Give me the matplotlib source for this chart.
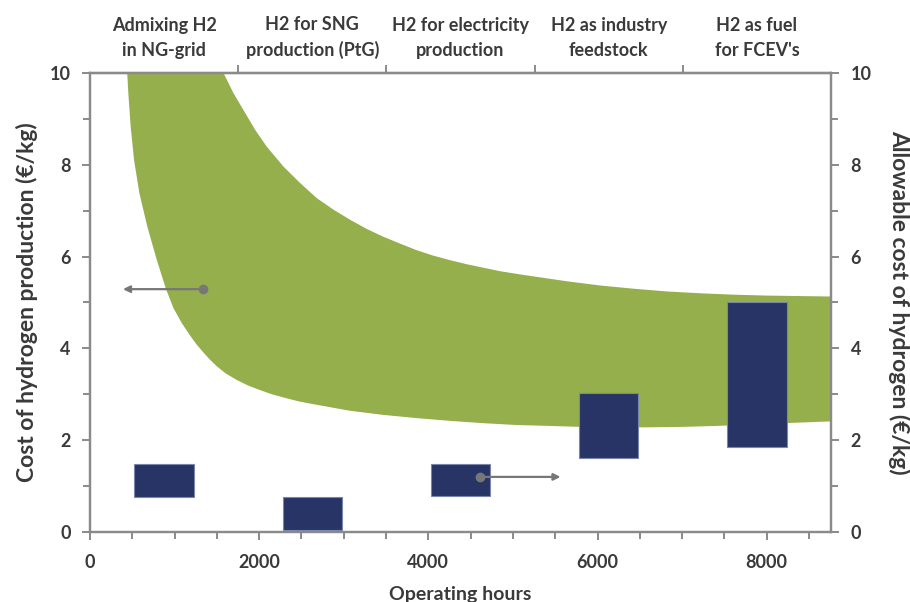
import numpy as np
import matplotlib
matplotlib.use("Agg")
import matplotlib.pyplot as plt
from matplotlib.ticker import MultipleLocator

plt.rcParams['font.family'] = ['Lato', 'DejaVu Sans']

# Production-cost band (EUR/kg) versus annual operating hours
lower_hours = [440, 453, 481, 521, 584, 678, 789, 899, 986, 1085, 1183, 1262, 1341, 1420,
               1499, 1600, 1736, 1870, 2012, 2150, 2288, 2480, 2683, 3077, 3471, 3866,
               4260, 4655, 5049, 5444, 5799, 6200, 6600, 7000, 7400, 7800, 8200, 8760]
lower_cost = [10.0, 9.56, 8.83, 8.10, 7.38, 6.65, 5.93, 5.29, 4.88, 4.55, 4.28, 4.08, 3.91, 3.75,
              3.61, 3.46, 3.31, 3.19, 3.09, 3.00, 2.93, 2.84, 2.77, 2.64, 2.55, 2.48,
              2.42, 2.37, 2.33, 2.31, 2.29, 2.28, 2.28, 2.29, 2.31, 2.34, 2.37, 2.41]
upper_hours = [1578, 1696, 1815, 1953, 2091, 2288, 2485, 2683, 2880, 3077, 3274, 3470,
               3669, 3860, 4059, 4260, 4461, 4852, 5089, 5645, 6030, 6426, 6820,
               7219, 7610, 8011, 8380, 8760]
upper_cost = [10.0, 9.56, 9.19, 8.76, 8.39, 7.96, 7.60, 7.27, 7.02, 6.80, 6.60, 6.43,
              6.28, 6.14, 6.02, 5.92, 5.83, 5.68, 5.61, 5.46, 5.37, 5.30, 5.24,
              5.20, 5.17, 5.15, 5.14, 5.13]

# Allowable hydrogen cost per application (EUR/kg), right axis
applications = ["Admixing H2\nin NG-grid", "H2 for SNG\nproduction (PtG)",
                "H2 for electricity\nproduction", "H2 as industry\nfeedstock",
                "H2 as fuel\nfor FCEV's"]
allow_low = [0.77, 0.05, 0.78, 1.61, 1.85]
allow_high = [1.48, 0.77, 1.48, 3.03, 5.01]

hours_max = 8760
segment = hours_max / len(applications)
centers = [segment * (i + 0.5) for i in range(len(applications))]
boundaries = [segment * i for i in range(1, len(applications))]

GREEN = '#94AF4C'
NAVY = '#283465'
GREY = '#8a8a8a'
TEXT = '#3a3a3a'

fig = plt.figure(figsize=(9.10, 6.02), dpi=100)
ax = fig.add_axes([0.0989, 0.1163, 0.8143, 0.7625])
ax.set_xlim(0, hours_max)
ax.set_ylim(0, 10)

# green band: lower curve out, upper curve back, closed along the top at 10
poly_x = list(lower_hours) + list(upper_hours[::-1])
poly_y = list(lower_cost) + list(upper_cost[::-1])
ax.fill(poly_x, poly_y, color=GREEN, lw=0, zorder=1)

# right axis with the allowable-cost boxes
ax2 = ax.twinx()
ax2.set_ylim(0, 10)
box_w = 700
for c, lo, hi in zip(centers, allow_low, allow_high):
    ax2.bar(c, hi - lo, bottom=lo, width=box_w, color=NAVY,
            edgecolor='#7b86ab', linewidth=0.8, zorder=3)

# arrows pointing to the relevant axis
ax.annotate('', xy=(390, 5.29), xytext=(1337, 5.29),
            arrowprops=dict(arrowstyle='-|>', color='#777777', lw=1.6,
                            mutation_scale=10, shrinkA=0, shrinkB=0), zorder=4)
ax.plot([1337], [5.29], 'o', color='#777777', ms=6, zorder=5)
ax2.annotate('', xy=(5562, 1.20), xytext=(4615, 1.20),
             arrowprops=dict(arrowstyle='-|>', color='#777777', lw=1.6,
                             mutation_scale=10, shrinkA=0, shrinkB=0), zorder=6)
ax2.plot([4615], [1.20], 'o', color='#777777', ms=6, zorder=7)

# axes styling
for a in (ax, ax2):
    for s in a.spines.values():
        s.set_color(GREY)
        s.set_linewidth(1.6)
    a.tick_params(which='both', color=GREY, width=1.4, direction='out')
    a.tick_params(which='major', length=6)
    a.tick_params(which='minor', length=5)

ax.xaxis.set_major_locator(MultipleLocator(2000))
ax.xaxis.set_minor_locator(MultipleLocator(500))
ax.yaxis.set_major_locator(MultipleLocator(2))
ax.yaxis.set_minor_locator(MultipleLocator(1))
ax2.yaxis.set_major_locator(MultipleLocator(2))
ax2.yaxis.set_minor_locator(MultipleLocator(1))

for lab in ax.get_xticklabels() + ax.get_yticklabels() + ax2.get_yticklabels():
    lab.set_fontweight('bold')
    lab.set_fontsize(13)
    lab.set_color(TEXT)
ax.tick_params(axis='x', pad=10)
ax.tick_params(axis='y', pad=8)
ax2.tick_params(axis='y', pad=8)

ax.set_xlabel('Operating hours', fontsize=14, fontweight='bold', color=TEXT, labelpad=11)
ax.set_ylabel('Cost of hydrogen production (€/kg)', fontsize=16.5,
              fontweight='bold', color=TEXT, labelpad=8)
ax2.set_ylabel('Allowable cost of hydrogen (€/kg)', fontsize=16.5,
               fontweight='bold', color=TEXT, rotation=270, labelpad=28)

# top axis: application segments
top = ax.secondary_xaxis('top')
top.set_xticks(boundaries)
top.set_xticklabels([])
top.tick_params(color=GREY, width=1.4, length=6, direction='out')
top.spines['top'].set_color(GREY)
top.spines['top'].set_linewidth(1.6)

for c, name in zip(centers, applications):
    ax.text(c, 1.03, name, transform=ax.get_xaxis_transform(), ha='center',
            va='bottom', fontsize=13, fontweight='bold', color=TEXT,
            linespacing=1.55)

fig.savefig('out.png', dpi=100)
